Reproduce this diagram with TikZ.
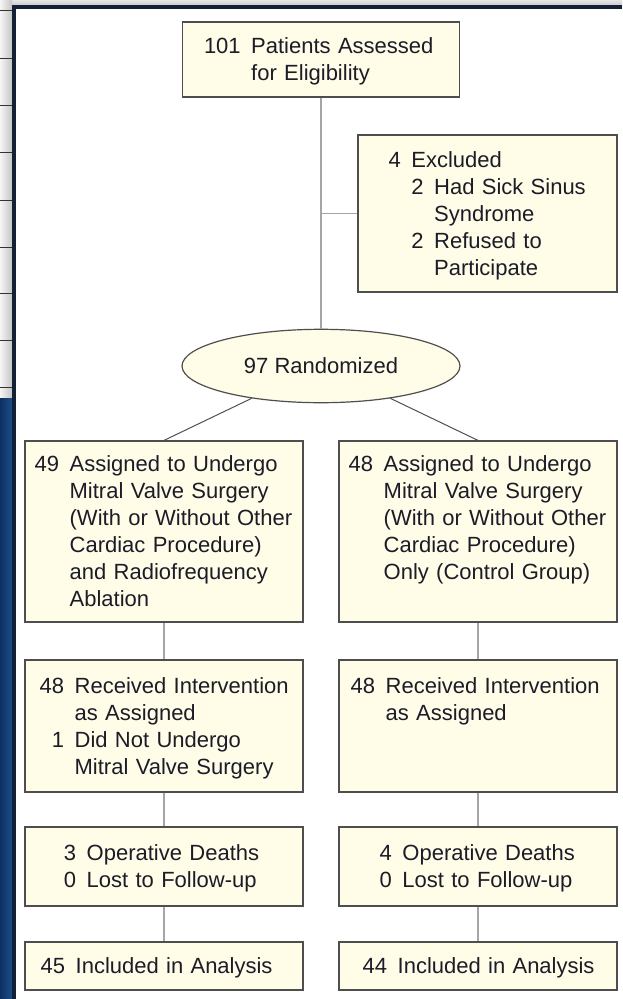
\documentclass[tikz,border=0pt]{standalone}
\usepackage{fontspec}
\setmainfont{Liberation Sans}
\usetikzlibrary{shapes.geometric}
\definecolor{boxfill}{RGB}{255,252,232}
\definecolor{boxline}{RGB}{78,78,78}
\definecolor{connc}{RGB}{165,165,165}
\definecolor{diagc}{RGB}{80,80,80}
\definecolor{textc}{RGB}{28,28,40}
\definecolor{navy}{RGB}{20,32,54}
\definecolor{blueA}{RGB}{12,48,98}
\definecolor{blueB}{RGB}{28,78,135}
\newcommand\rs{\rule[-6pt]{0pt}{27pt}}
\newcommand\fs{\fontsize{22pt}{27pt}\selectfont}
\renewcommand\arraystretch{0}
\tikzset{
  box/.style={draw=boxline, fill=boxfill, line width=1.2pt, rectangle, inner sep=0pt,
              align=left, font=\fs, text=textc},
  connline/.style={draw=connc, line width=1.6pt},
  diagline/.style={draw=diagc, line width=1pt},
}
\begin{document}
\begin{tikzpicture}[x=1pt, y=-1pt]
\useasboundingbox (0,0) rectangle (622,999);
% background
\fill[white] (0,0) rectangle (622,999);
\shade[top color=gray!20, bottom color=gray!40] (0,0) rectangle (622,5);
\shade[left color=gray!8, right color=gray!45] (0,0) rectangle (12,398);
\foreach \yy in {10,58,105,152,200,247,293,340,387}
  \draw[gray!40!black, line width=0.8pt] (0,\yy) -- (12,\yy);
\shade[left color=blueA, right color=blueB] (0,398) rectangle (12,999);
\fill[navy] (12,5) rectangle (16,999);
\fill[navy] (12,5) rectangle (622,9);

% nodes
\node[box, text width=277pt, minimum height=75pt] (top) at (321,59.5)
  {\hspace*{21.5pt}\begin{tabular}{@{}r@{\hspace{10.5pt}}l@{}}
   \rs 101 & Patients Assessed\\
   \rs & for Eligibility\end{tabular}};
\node[box, text width=259pt, minimum height=157pt] (excl) at (487.5,213.5)
  {\hspace*{30.7pt}\begin{tabular}{@{}r@{\hspace{10.5pt}}r@{\hspace{10.5pt}}l@{}}
   \rs 4 & \multicolumn{2}{@{}l@{}}{Excluded}\\
   \rs & 2 & Had Sick Sinus\\
   \rs & & Syndrome\\
   \rs & 2 & Refused to\\
   \rs & & Participate\end{tabular}};
\node[ellipse, draw=boxline, fill=boxfill, line width=1.2pt, inner sep=0pt,
      minimum width=278pt, minimum height=73.4pt, font=\fs, text=textc]
  (rand) at (321,366) {97 Randomized};
\node[box, text width=278pt, minimum height=181pt] (a1) at (164,531.5)
  {\hspace*{9.7pt}\begin{tabular}{@{}r@{\hspace{10.5pt}}l@{}}
   \rs 49 & Assigned to Undergo\\
   \rs & Mitral Valve Surgery\\
   \rs & (With or Without Other\\
   \rs & Cardiac Procedure)\\
   \rs & and Radiofrequency\\
   \rs & Ablation\end{tabular}};
\node[box, text width=278pt, minimum height=181pt] (a2) at (478,531.5)
  {\hspace*{9.7pt}\begin{tabular}{@{}r@{\hspace{10.5pt}}l@{}}
   \rs 48 & Assigned to Undergo\\
   \rs & Mitral Valve Surgery\\
   \rs & (With or Without Other\\
   \rs & Cardiac Procedure)\\
   \rs & Only (Control Group)\\
   \rs & \end{tabular}};
\node[box, text width=278pt, minimum height=132pt] (r1) at (164,726)
  {\hspace*{14.7pt}\begin{tabular}{@{}r@{\hspace{10.5pt}}l@{}}
   \rs 48 & Received Intervention\\
   \rs & as Assigned\\
   \rs 1 & Did Not Undergo\\
   \rs & Mitral Valve Surgery\end{tabular}};
\node[box, text width=278pt, minimum height=132pt] (r2) at (478,726)
  {\hspace*{11.7pt}\begin{tabular}{@{}r@{\hspace{10.5pt}}l@{}}
   \rs 48 & Received Intervention\\
   \rs & as Assigned\\
   \rs & \\
   \rs & \end{tabular}};
\node[box, text width=278pt, minimum height=79pt] (o1) at (164,866.5)
  {\hspace*{39pt}\begin{tabular}{@{}r@{\hspace{10.5pt}}l@{}}
   \rs 3 & Operative Deaths\\
   \rs 0 & Lost to Follow-up\end{tabular}};
\node[box, text width=278pt, minimum height=79pt] (o2) at (478,866.5)
  {\hspace*{40.7pt}\begin{tabular}{@{}r@{\hspace{10.5pt}}l@{}}
   \rs 4 & Operative Deaths\\
   \rs 0 & Lost to Follow-up\end{tabular}};
\node[box, text width=278pt, minimum height=48pt] (i1) at (164,966)
  {\hspace*{15.7pt}\begin{tabular}{@{}r@{\hspace{10.5pt}}l@{}}
   \rs 45 & Included in Analysis\end{tabular}};
\node[box, text width=278pt, minimum height=48pt] (i2) at (478,966)
  {\hspace*{23.7pt}\begin{tabular}{@{}r@{\hspace{10.5pt}}l@{}}
   \rs 44 & Included in Analysis\end{tabular}};

% connectors
\coordinate (br) at (top.south |- excl.west);
\draw[connline] (top.south) -- (rand.north);
\draw[connline] (br) -- (excl.west);
\draw[diagline] (rand.205) -- (a1.north);
\draw[diagline] (rand.335) -- (a2.north);
\draw[connline] (a1.south) -- (r1.north);
\draw[connline] (a2.south) -- (r2.north);
\draw[connline] (r1.south) -- (o1.north);
\draw[connline] (r2.south) -- (o2.north);
\draw[connline] (o1.south) -- (i1.north);
\draw[connline] (o2.south) -- (i2.north);
\end{tikzpicture}
\end{document}
